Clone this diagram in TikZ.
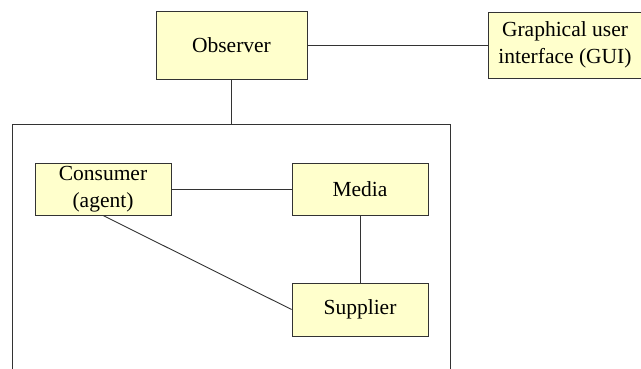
\documentclass[tikz,border=0pt]{standalone}
\usepackage{fontspec}
\setmainfont{Liberation Serif}
\definecolor{boxfill}{HTML}{FFFFCC}
\definecolor{linecol}{HTML}{333333}
\begin{document}
\begin{tikzpicture}[x=1pt,y=-1pt,
  box/.style={draw=linecol,line width=0.9pt,fill=boxfill,inner sep=0pt,
    font=\fontsize{21.5}{26.5}\selectfont,align=center},
  conn/.style={draw=linecol,line width=0.9pt}]
\useasboundingbox (0,0) rectangle (641,369);
% container (open at bottom)
\coordinate (cbl) at (12,369);
\coordinate (ctl) at (12,124);
\coordinate (ctr) at (450,124);
\coordinate (cbr) at (450,369);
\draw[conn] (cbl) -- (ctl) -- (ctr) -- (cbr);
\node[box,minimum width=151,minimum height=68] (obs) at (231.5,45) {Observer};
\node[box,minimum width=154,minimum height=66] (gui) at (565,45) {Graphical user\\interface (GUI)};
\node[box,minimum width=136,minimum height=52] (cons) at (103,189) {Consumer\\(agent)};
\node[box,minimum width=136,minimum height=52] (media) at (360,189) {Media};
\node[box,minimum width=136,minimum height=53] (sup) at (360,309.5) {Supplier};
\coordinate (ctop) at (obs.south |- ctl);
\draw[conn] (obs) -- (gui);
\draw[conn] (obs.south) -- (ctop);
\draw[conn] (cons) -- (media);
\draw[conn] (media) -- (sup);
\draw[conn] (cons.south) -- (sup.west);
\end{tikzpicture}
\end{document}
